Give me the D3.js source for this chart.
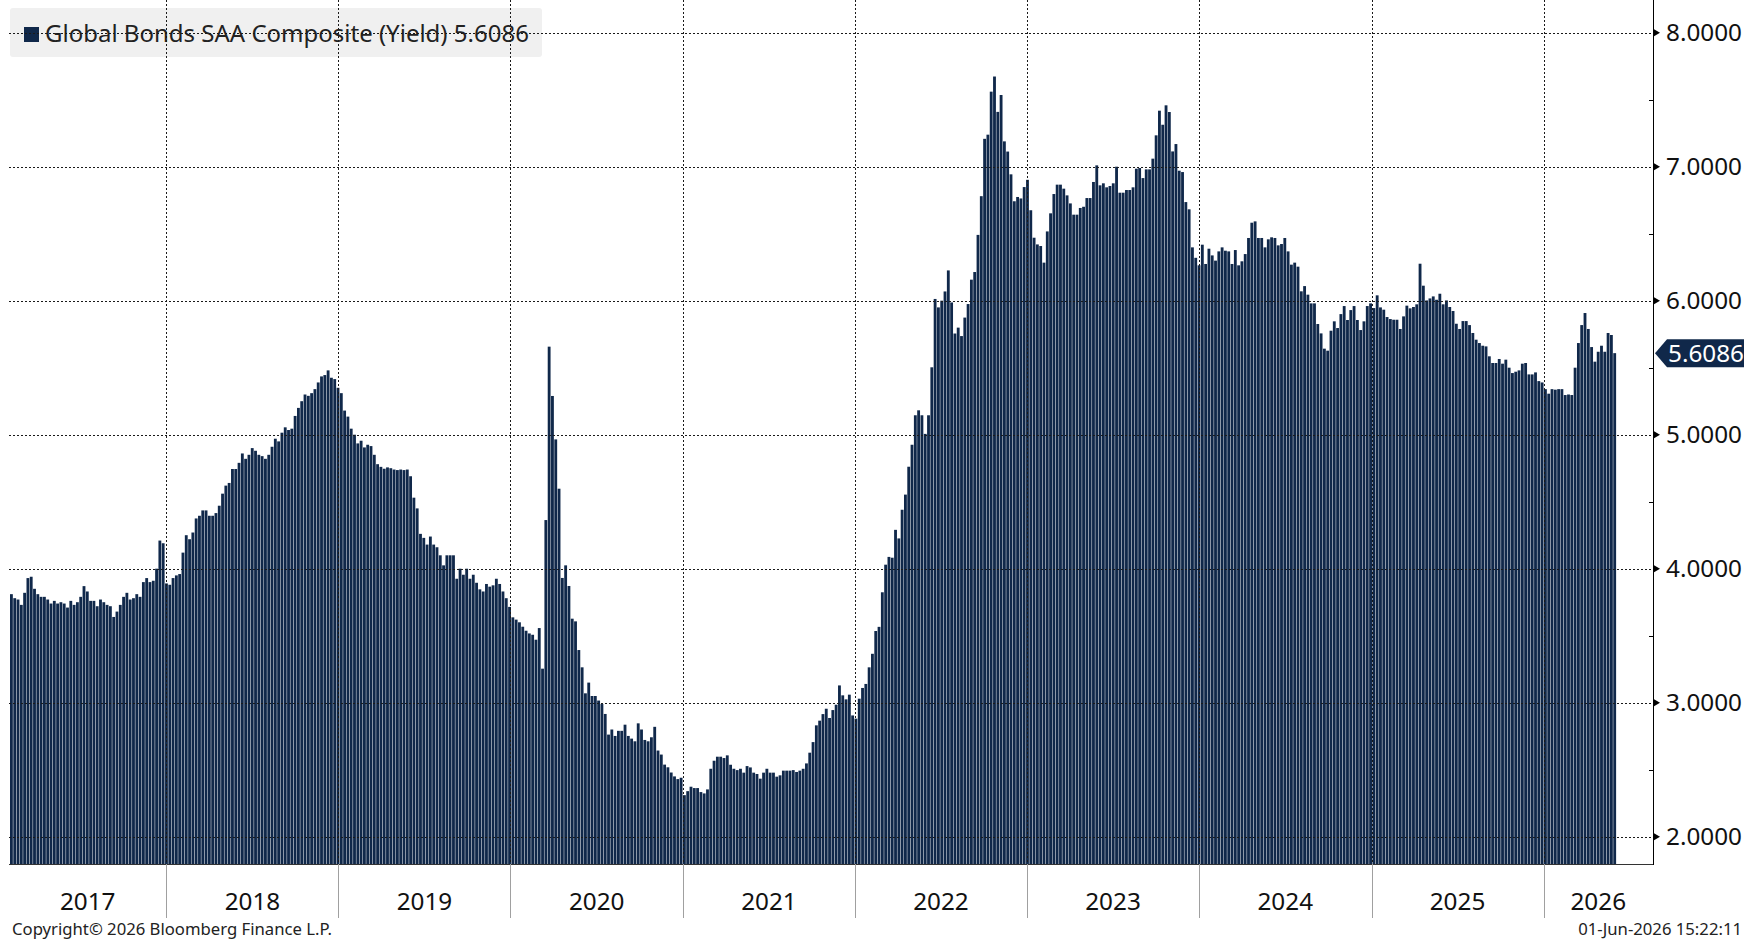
<!DOCTYPE html>
<html><head><meta charset="utf-8">
<script src="https://cdn.jsdelivr.net/npm/d3@7"></script>
<style>
html,body{margin:0;padding:0;background:#fff;overflow:hidden;}
svg{display:block;font-family:"Noto Sans","Open Sans",sans-serif;}
</style></head><body>
<svg id="chart" width="1744" height="940"></svg>
<script>
// ---------------- DATA ----------------
const seriesName = "Global Bonds SAA Composite (Yield)";
const lastValueLabel = "5.6086";
const firstWeek = "2017-02-03";          // weekly observations (Fridays)
const yTickValues = [2, 3, 4, 5, 6, 7, 8];
const yTickLabels = ["2.0000", "3.0000", "4.0000", "5.0000", "6.0000", "7.0000", "8.0000"];
const yearLabels = ["2017", "2018", "2019", "2020", "2021", "2022", "2023", "2024", "2025", "2026"];
const footerLeft = "Copyright\u00A9 2026 Bloomberg Finance L.P.";
const footerRight = "01-Jun-2026 15:22:11";

const y2017 = [3.81,3.78,3.77,3.73,3.82,3.93,3.94,3.85,3.81,3.79,3.79,3.77,3.74,3.76,3.74,3.75,3.74,3.71,3.76,3.73,
  3.75,3.79,3.87,3.83,3.76,3.76,3.72,3.77,3.75,3.73,3.72,3.64,3.68,3.73,3.79,3.82,3.77,3.78,3.81,3.79,
  3.90,3.93,3.90,3.91,4.00,4.21,4.19,3.89];
const y2018 = [3.88,3.93,3.95,3.96,4.12,4.25,4.22,4.27,4.375,4.395,4.435,4.435,4.395,4.395,4.415,4.47,4.56,4.62,4.64,4.744,
  4.744,4.79,4.86,4.82,4.85,4.90,4.88,4.85,4.84,4.82,4.85,4.91,4.97,4.95,5.015,5.055,5.035,5.045,5.14,5.20,
  5.25,5.30,5.29,5.31,5.34,5.39,5.435,5.445,5.48,5.425,5.415,5.35];
const y2019 = [5.31,5.18,5.135,5.045,5.00,4.935,4.955,4.905,4.925,4.915,4.85,4.78,4.76,4.746,4.756,4.75,4.74,4.736,4.74,4.736,
  4.74,4.69,4.53,4.45,4.26,4.23,4.18,4.24,4.18,4.16,4.10,4.025,4.10,4.10,4.10,3.925,4.00,3.955,4.00,3.925,
  3.955,3.895,3.846,3.83,3.886,3.866,3.876,3.925,3.886,3.83,3.78,3.715];
const y2020 = [3.637,3.62,3.60,3.567,3.537,3.517,3.507,3.47,3.557,3.254,4.363,5.657,5.289,4.965,4.597,3.931,4.025,3.871,3.627,3.607,
  3.393,3.264,3.07,3.15,3.05,3.05,3.016,2.99,2.916,2.762,2.80,2.752,2.79,2.79,2.836,2.752,2.732,2.712,2.846,2.80,
  2.722,2.712,2.742,2.82,2.643,2.613,2.538,2.518,2.479,2.45,2.43,2.44];
const y2021 = [2.31,2.34,2.373,2.363,2.363,2.333,2.323,2.353,2.507,2.567,2.597,2.597,2.587,2.607,2.537,2.507,2.497,2.507,2.478,2.527,
  2.517,2.478,2.468,2.433,2.478,2.507,2.478,2.478,2.448,2.458,2.493,2.493,2.493,2.497,2.483,2.493,2.507,2.547,2.627,2.706,
  2.831,2.866,2.915,2.955,2.886,2.945,2.985,3.129,3.055,3.025,3.06,2.905,2.881];
const y2022 = [3.03,3.11,3.14,3.264,3.365,3.535,3.566,3.824,4.03,4.088,4.082,4.29,4.226,4.44,4.553,4.761,4.925,5.145,5.182,5.145,
  5.006,5.145,5.503,6.013,5.95,6.00,6.069,6.226,5.987,5.755,5.799,5.736,5.874,5.975,6.157,6.214,6.491,6.78,7.208,7.239,
  7.56,7.673,7.409,7.535,7.189,7.113,6.943,6.742,6.774,6.763,6.848,6.902];
const y2023 = [6.675,6.47,6.42,6.408,6.284,6.517,6.652,6.796,6.866,6.866,6.836,6.786,6.726,6.642,6.642,6.692,6.701,6.766,6.766,6.886,
  7.01,6.861,6.876,6.846,6.856,6.876,7.00,6.806,6.806,6.826,6.826,6.846,6.985,6.99,6.915,6.98,6.98,7.06,7.234,7.418,
  7.313,7.458,7.408,7.114,7.169,6.97,6.96,6.736,6.682,6.398,6.32,6.264];
const y2024 = [6.418,6.274,6.388,6.338,6.299,6.368,6.398,6.373,6.368,6.274,6.378,6.264,6.294,6.348,6.468,6.582,6.592,6.468,6.468,6.398,
  6.458,6.473,6.468,6.413,6.423,6.468,6.368,6.269,6.284,6.254,6.07,6.109,6.045,5.98,5.98,5.826,5.756,5.642,5.627,5.776,
  5.846,5.796,5.90,5.96,5.856,5.93,5.96,5.856,5.781,5.846,5.96,5.98];
const y2025 = [5.945,6.04,5.95,5.933,5.878,5.863,5.858,5.858,5.789,5.883,5.963,5.943,5.953,5.973,6.276,6.112,6.002,6.017,6.032,6.007,
  6.052,5.973,6.002,5.953,5.923,5.828,5.789,5.848,5.848,5.818,5.759,5.709,5.684,5.664,5.659,5.585,5.535,5.535,5.565,5.53,
  5.56,5.50,5.46,5.47,5.48,5.53,5.535,5.45,5.45,5.465,5.40,5.39];
const y2026 = [5.34,5.306,5.34,5.336,5.34,5.34,5.296,5.30,5.296,5.50,5.684,5.818,5.908,5.789,5.654,5.545,5.619,5.664,5.619,5.759,
  5.744,5.6086];

// ---------------- BUILD ----------------
const values = [].concat(y2017, y2018, y2019, y2020, y2021, y2022, y2023, y2024, y2025, y2026);
const start = d3.timeParse("%Y-%m-%d")(firstWeek);
const data = values.map((v, i) => ({ date: d3.timeDay.offset(start, 7 * i), value: v }));

const W = 1744, H = 940;
const plotL = 9, plotR = 1653, plotT = 0, plotB = 864;
const navy = "#10284a";
const DAY = 864e5;
const firstDate = data[0].date, lastDate = data[data.length - 1].date;

const x = d3.scaleTime()
  .domain([new Date(+firstDate - 2.12 * DAY), new Date(+lastDate + 84.3 * DAY)])
  .range([plotL, plotR]);
const y = d3.scaleLinear().domain([1.7963, 8.244]).range([plotB, plotT]);

const svg = d3.select("#chart");
svg.append("rect").attr("width", W).attr("height", H).attr("fill", "#fff");

// legend box (behind grid)
const lg = svg.append("g");
lg.append("rect").attr("x", 10).attr("y", 8).attr("width", 532).attr("height", 49)
  .attr("rx", 3).attr("fill", "#f0f0f0");
lg.append("rect").attr("x", 24).attr("y", 27).attr("width", 15).attr("height", 15).attr("fill", navy);
const lgText = lg.append("text").attr("x", 45).attr("y", 42).attr("font-size", 24).attr("fill", "#222")
  .text(seriesName + " " + lastValueLabel);
fitWidth(lgText, 484);

// bars
const barW = 7 * (x(d3.timeDay.offset(start, 1)) - x(start)) * 0.86;
svg.append("g").selectAll("rect").data(data).join("rect")
  .attr("x", d => x(d.date))
  .attr("y", d => y(d.value))
  .attr("width", barW)
  .attr("height", d => plotB - y(d.value))
  .attr("fill", navy);

// grid on top
const yearStarts = yearLabels.map(s => new Date(+s, 0, 1));
const grid = svg.append("g").attr("stroke", "#1a1a1a").attr("stroke-width", 1).attr("stroke-dasharray", "2,2");
grid.selectAll("line.h").data(yTickValues).join("line").attr("class", "h")
  .attr("x1", plotL).attr("x2", plotR)
  .attr("y1", d => Math.round(y(d)) + 0.5).attr("y2", d => Math.round(y(d)) + 0.5);
grid.selectAll("line.v").data(yearStarts.slice(1)).join("line").attr("class", "v")
  .attr("x1", d => Math.round(x(d)) + 0.5).attr("x2", d => Math.round(x(d)) + 0.5)
  .attr("y1", plotT).attr("y2", plotB);

// axes lines
svg.append("line").attr("x1", plotL).attr("x2", plotR).attr("y1", plotB + 0.5).attr("y2", plotB + 0.5)
  .attr("stroke", "#333").attr("stroke-width", 1);
svg.append("line").attr("x1", plotR + 0.5).attr("x2", plotR + 0.5).attr("y1", plotT).attr("y2", plotB + 1)
  .attr("stroke", "#000").attr("stroke-width", 1);

// year separators below axis
svg.append("g").selectAll("line").data(yearStarts.slice(1)).join("line")
  .attr("x1", d => Math.round(x(d)) + 0.5).attr("x2", d => Math.round(x(d)) + 0.5)
  .attr("y1", plotB).attr("y2", 918).attr("stroke", "#a0a0a0").attr("stroke-width", 1);

// y ticks (triangles) and minor ticks
const yAxisG = svg.append("g");
yAxisG.selectAll("path.maj").data(yTickValues).join("path").attr("class", "maj")
  .attr("d", d => { const yy = y(d); return `M${plotR + 1},${yy - 3.5}L${plotR + 7},${yy}L${plotR + 1},${yy + 3.5}Z`; })
  .attr("fill", "#000");
const minorTicks = yTickValues.slice(0, -1).map(v => v + 0.5);
yAxisG.selectAll("line.min").data(minorTicks).join("line").attr("class", "min")
  .attr("x1", plotR - 4).attr("x2", plotR)
  .attr("y1", d => Math.round(y(d)) + 0.5).attr("y2", d => Math.round(y(d)) + 0.5)
  .attr("stroke", "#000");

const tickTexts = yAxisG.selectAll("text").data(yTickValues).join("text")
  .attr("x", 1666).attr("y", d => y(d)).attr("dy", "0.36em")
  .attr("font-size", 24).attr("fill", "#111")
  .text((d, i) => yTickLabels[i]);
const tickFs = 24 * 76 / tickTexts.filter((d, i) => i === yTickValues.length - 1).node().getComputedTextLength();
tickTexts.attr("font-size", tickFs);

// last value tag
const ty = y(values[values.length - 1]);
svg.append("path")
  .attr("d", `M${plotR + 2},${ty}L${plotR + 14},${ty - 14}L${W},${ty - 14}L${W},${ty + 14}L${plotR + 14},${ty + 14}Z`)
  .attr("fill", navy);
svg.append("text").attr("x", 1668).attr("y", ty).attr("dy", "0.36em")
  .attr("font-size", tickFs).attr("fill", "#fff").text(lastValueLabel);

// year labels
const yearG = svg.append("g");
yearLabels.forEach((lab, i) => {
  const a = Math.max(plotL, x(yearStarts[i]));
  const b = i + 1 < yearStarts.length ? x(yearStarts[i + 1]) : plotR;
  yearG.append("text").attr("x", (a + b) / 2).attr("y", 910).attr("text-anchor", "middle")
    .attr("font-size", tickFs).attr("fill", "#111").text(lab);
});

// footer
const fl = svg.append("text").attr("x", 12).attr("y", 935).attr("font-size", 15).attr("fill", "#222").text(footerLeft);
fitWidth(fl, 320);
svg.append("text").attr("x", 1742).attr("y", 935).attr("text-anchor", "end")
  .attr("font-size", fl.attr("font-size")).attr("fill", "#222").text(footerRight);

function fitWidth(sel, target) {
  const w = sel.node().getComputedTextLength();
  const fs = parseFloat(sel.attr("font-size"));
  sel.attr("font-size", fs * target / w);
}
</script>
</body></html>
